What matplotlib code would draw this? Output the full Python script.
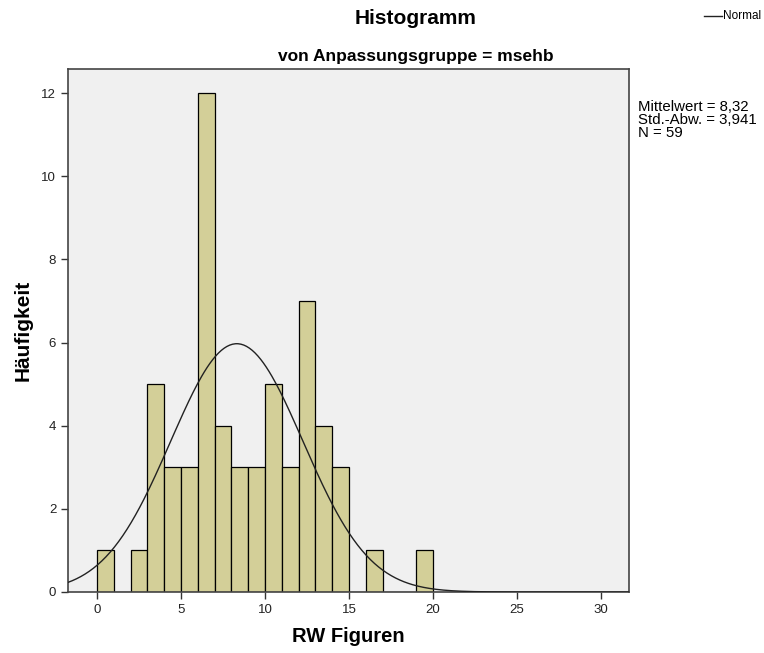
import numpy as np
import matplotlib
matplotlib.use("Agg")
import matplotlib.pyplot as plt

bin_left = [0, 1, 2, 3, 4, 5, 6, 7, 8, 9, 10, 11, 12, 13, 14, 15, 16, 17, 18, 19]
counts = [1, 0, 1, 5, 3, 3, 12, 4, 3, 3, 5, 3, 7, 4, 3, 0, 1, 0, 0, 1]
mean = 8.32
sd = 3.941
n = 59
bin_width = 1.0

plt.rcParams['font.family'] = ['Liberation Sans', 'DejaVu Sans']

fig = plt.figure(figsize=(7.64, 6.53), dpi=100)
ax = fig.add_axes([68/764, 1-592/653, (629-68)/764, (592-69)/653])
ax.set_facecolor('#F0F0F0')

ax.bar(bin_left, counts, width=bin_width, align='edge', color='#D3CF98',
       edgecolor='black', linewidth=0.9, zorder=2)

xmin, xmax = -1.73, 31.67
xs = np.linspace(xmin, xmax, 400)
ys = n * bin_width / (sd * np.sqrt(2*np.pi)) * np.exp(-0.5*((xs-mean)/sd)**2)
ax.plot(xs, ys, color='#222222', linewidth=1.0, zorder=3)

ax.set_xlim(xmin, xmax)
ax.set_ylim(0, 12.58)
ax.set_xticks([0, 5, 10, 15, 20, 25, 30])
ax.set_yticks([0, 2, 4, 6, 8, 10, 12])
ax.tick_params(direction='out', length=5, width=1, colors='#333333', labelsize=9.5, labelcolor='#222222')
for s in ax.spines.values():
    s.set_color('#444444')
    s.set_linewidth(1.2)

ax.set_xlabel('RW Figuren', fontsize=14.5, fontweight='bold', labelpad=8)
ax.set_ylabel('Häufigkeit', fontsize=15, fontweight='bold', labelpad=6)

fig.text(416/764, 1-19/653, 'Histogramm', fontsize=15, fontweight='bold', ha='center', va='center')
fig.text(416/764, 1-57/653, 'von Anpassungsgruppe = msehb',
         fontsize=12.5, fontweight='bold', ha='center', va='center')

# legend
fig.add_artist(plt.Line2D([704/764, 722/764], [1-16/653, 1-16/653], color='#222222', linewidth=1.0))
fig.text(723/764, 1-16/653, 'Normal', fontsize=8.5, ha='left', va='center')

fig.text(638/764, 1-100/653, 'Mittelwert = 8,32\nStd.-Abw. = 3,941\nN = 59',
         fontsize=10.8, ha='left', va='top', linespacing=0.9)

fig.savefig('out.png', dpi=100)
